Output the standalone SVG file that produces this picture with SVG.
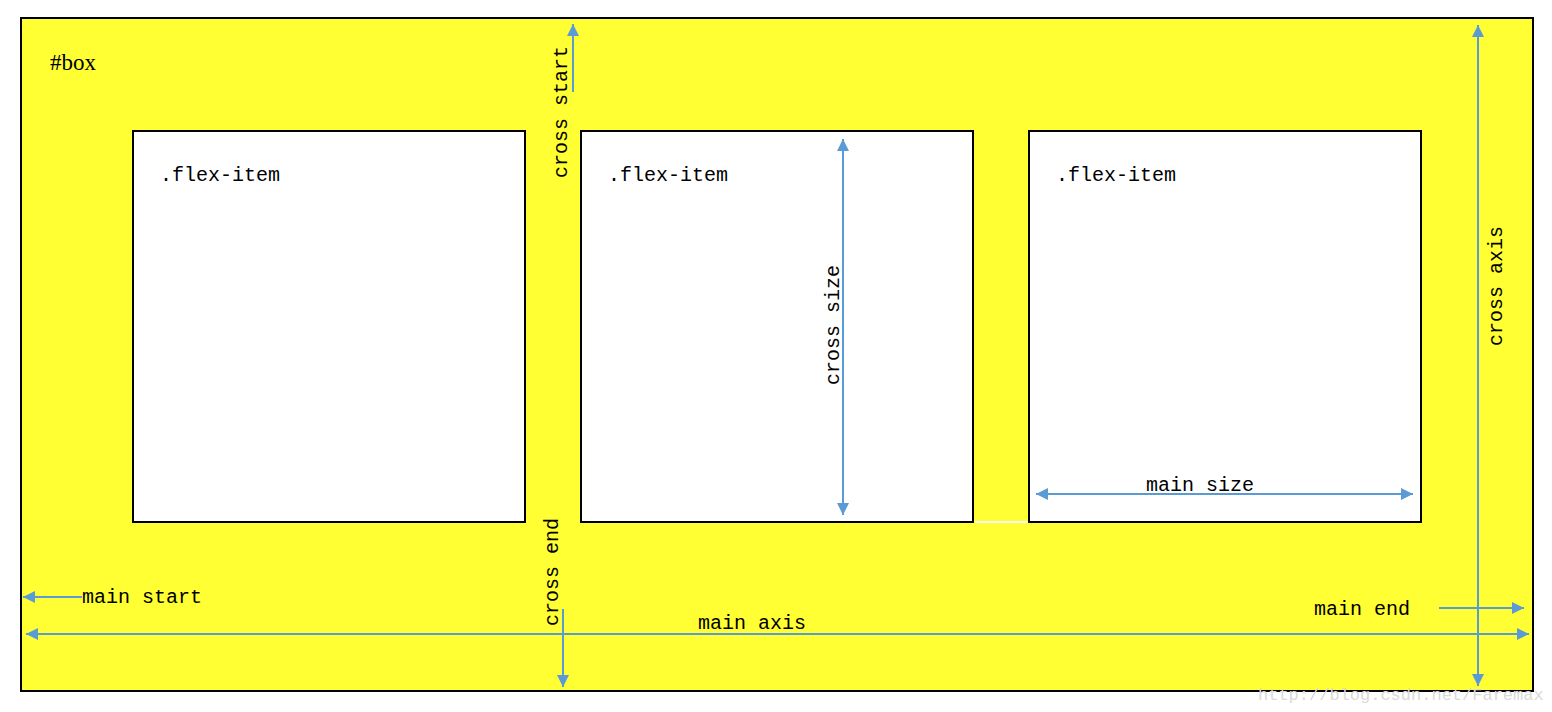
<svg xmlns="http://www.w3.org/2000/svg" width="1552" height="712" viewBox="0 0 1552 712">
<style>
.item{fill:#fff;stroke:#000;stroke-width:2}
.t{font-family:"Liberation Mono","DejaVu Sans Mono",monospace;font-size:20px;fill:#000}
.a{stroke:#5B9BD5;stroke-width:2;fill:none}
</style>
<defs>
<marker id="ah" markerUnits="userSpaceOnUse" markerWidth="14" markerHeight="12" refX="12" refY="6" orient="auto-start-reverse">
<path d="M0,0 L12,6 L0,12 Z" fill="#5B9BD5"/>
</marker>
</defs>
<rect width="1552" height="712" fill="#fff"/>
<g id="box">
<rect x="21" y="18" width="1512" height="673" fill="#FFFF33" stroke="#000" stroke-width="2"/>
<text x="50" y="70" style="font-family:'Liberation Serif',serif;font-size:23px">#box</text>
</g>
<g id="item1">
<rect class="item" x="133" y="131" width="392" height="391"/>
<text class="t" x="160" y="181">.flex-item</text>
</g>
<g id="item2">
<rect class="item" x="581" y="131" width="392" height="391"/>
<text class="t" x="608" y="181">.flex-item</text>
</g>
<g id="item3">
<rect class="item" x="1029" y="131" width="392" height="391"/>
<text class="t" x="1056" y="181">.flex-item</text>
</g>
<line x1="975" y1="522" x2="1028" y2="522" stroke="#fff" stroke-width="2"/>
<g id="connectors">
<line class="a" x1="573" y1="92" x2="573" y2="24" marker-end="url(#ah)"/>
<line class="a" x1="563" y1="609" x2="563" y2="687" marker-end="url(#ah)"/>
<line class="a" x1="82" y1="597" x2="23" y2="597" marker-end="url(#ah)"/>
<line class="a" x1="26" y1="634" x2="1529" y2="634" marker-start="url(#ah)" marker-end="url(#ah)"/>
<line class="a" x1="1439" y1="608" x2="1524" y2="608" marker-end="url(#ah)"/>
<line class="a" x1="1478" y1="25" x2="1478" y2="686" marker-start="url(#ah)" marker-end="url(#ah)"/>
<line class="a" x1="843" y1="139" x2="843" y2="515" marker-start="url(#ah)" marker-end="url(#ah)"/>
<line class="a" x1="1036" y1="494" x2="1413" y2="494" marker-start="url(#ah)" marker-end="url(#ah)"/>
</g>
<g id="labels">
<text class="t" transform="translate(567,178) rotate(-90)">cross start</text>
<text class="t" transform="translate(558,626) rotate(-90)">cross end</text>
<text class="t" transform="translate(839,385) rotate(-90)">cross size</text>
<text class="t" transform="translate(1502,346) rotate(-90)">cross axis</text>
<text class="t" x="82" y="603">main start</text>
<text class="t" x="698" y="629">main axis</text>
<text class="t" x="1314" y="615">main end</text>
<text class="t" x="1146" y="491">main size</text>
<text x="1258" y="700" style="font-family:'Liberation Mono',monospace;font-size:17px;fill:#dadada">http://blog.csdn.net/Faremax</text>
</g>
</svg>
